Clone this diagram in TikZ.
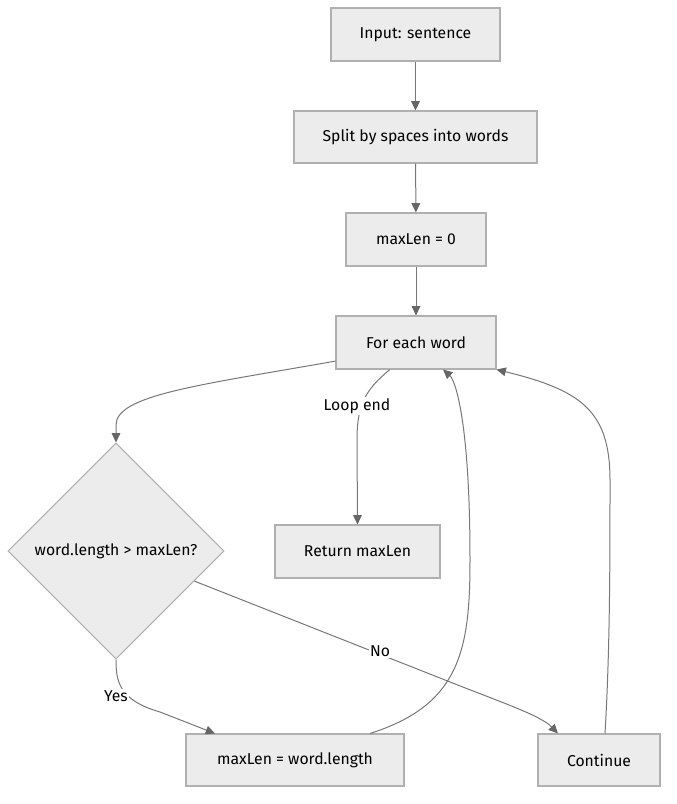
\documentclass[tikz,border=0pt]{standalone}
\usepackage{fontspec}
\setmainfont{Fira Sans}
\usetikzlibrary{shapes.geometric,arrows.meta}
\definecolor{boxfill}{HTML}{ECECEC}
\definecolor{boxline}{HTML}{B0B0B0}
\definecolor{edgecol}{HTML}{777777}
\definecolor{tipcol}{HTML}{666666}
\begin{document}
\begin{tikzpicture}[x=0.75pt,y=-0.75pt,
  font=\fontsize{11.8}{14}\selectfont,
  box/.style={draw=boxline,fill=boxfill,line width=0.8pt,rectangle,inner sep=0pt},
  dec/.style={draw=boxline,fill=boxfill,line width=0.8pt,diamond,aspect=1,inner sep=0pt,minimum width=162pt,minimum height=162pt},
  edge/.style={draw=edgecol,line width=0.75pt,-{Triangle[length=7pt,width=6.5pt,color=tipcol]}},
  lbl/.style={fill=white,inner sep=1pt}]
\useasboundingbox (0,0) rectangle (676,804);
\node[box,minimum width=126.75pt,minimum height=39.75pt] (in) at (415.5,34.5) {Input: sentence};
\node[box,minimum width=182.25pt,minimum height=39pt] (split) at (415.5,137) {Split by spaces into words};
\node[box,minimum width=105pt,minimum height=39.75pt] (m0) at (416,239.5) {maxLen = 0};
\node[box,minimum width=120pt,minimum height=39.75pt] (for) at (416,342.5) {For each word};
\node[dec] (dia) at (116,551) {word.length > maxLen?};
\node[box,minimum width=123.75pt,minimum height=39.75pt] (ret) at (357.5,551.5) {Return maxLen};
\node[box,minimum width=163.5pt,minimum height=39pt] (mwl) at (295,760) {maxLen = word.length};
\node[box,minimum width=91.5pt,minimum height=39pt] (cont) at (599,760) {Continue};

\draw[edge] (in) -- (split);
\draw[edge] (split) -- (m0);
\draw[edge] (m0) -- (for);
\draw[edge] (for.193) .. controls (200,385) and (116,395) .. (116,425) -- (dia.north);
\draw[edge] (for.226) .. controls (365,390) and (357,405) .. (357,440) -- (ret.north);
\draw[edge] (dia.south) .. controls (116,680) and (118,700) .. (160,712) -- (mwl.north west -| 215,0);
\draw[edge] (dia.339) -- (440,678) .. controls (500,702) and (540,715) .. (cont.north west -| 558,0);
\draw[edge] (mwl.north -| 370,0) .. controls (460,705) and (470,650) .. (470,560) .. controls (470,420) and (455,380) .. (for.south -| 443,0);
\draw[edge] (cont.north -| 605,0) .. controls (610,650) and (610,560) .. (610,480) .. controls (610,410) and (580,390) .. (for.south east);
\node[lbl] (l1) at (357,406) {Loop end};
\node[lbl] (l2) at (116,696) {Yes};
\node[lbl] (l3) at (380,651) {No};
\end{tikzpicture}
\end{document}
